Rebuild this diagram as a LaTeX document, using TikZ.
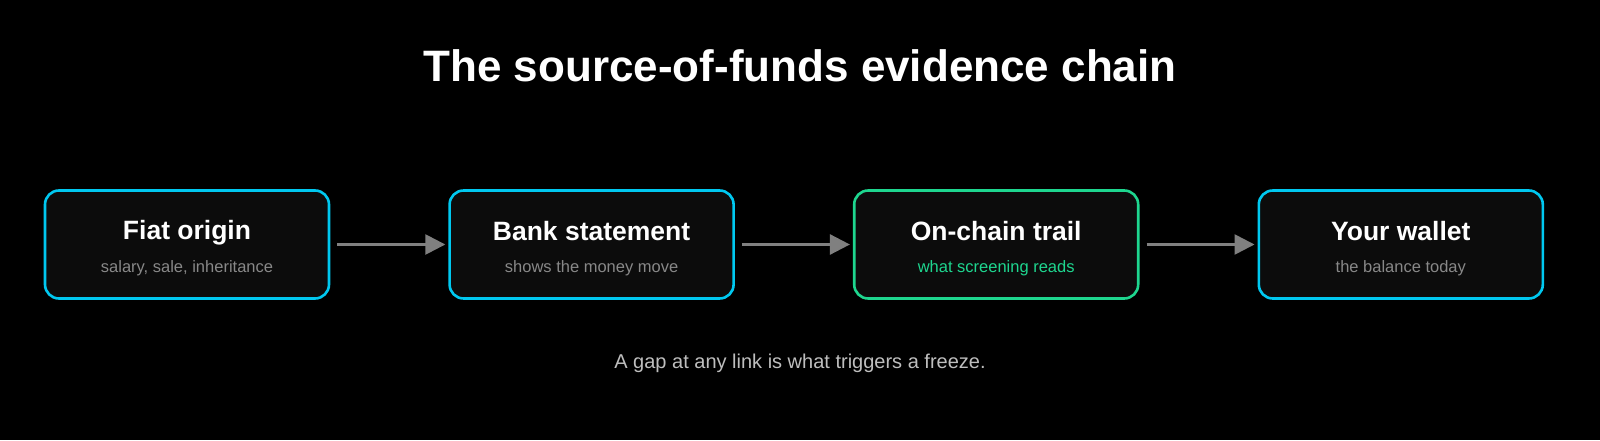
\documentclass[tikz,border=0pt]{standalone}
\usepackage{fontspec}
\setmainfont{Liberation Sans}
\usetikzlibrary{arrows.meta,positioning}
\definecolor{canvas}{RGB}{0,0,0}
\definecolor{boxfill}{RGB}{12,12,12}
\definecolor{edgecyan}{RGB}{0,200,240}
\definecolor{edgegreen}{RGB}{30,214,143}
\definecolor{subgrey}{RGB}{136,136,136}
\definecolor{arrowgrey}{RGB}{128,128,128}
\definecolor{notegrey}{RGB}{190,190,190}

\tikzset{
  stage/.style={draw=edgecyan,line width=2.6pt,fill=boxfill,
    rounded corners=14pt,minimum width=284pt,minimum height=108pt,
    align=center,inner sep=0pt,text=white,
    font=\fontsize{1pt}{1pt}\selectfont},
  onchain/.style={stage,draw=edgegreen},
  flow/.style={draw=arrowgrey,line width=2.6pt,
    -{Triangle[length=20pt,width=20pt]},shorten <=7pt,shorten >=3pt}
}
% fixed struts keep both baselines the same distance apart in every box
\newcommand{\stagehead}[1]{{\fontsize{26.5pt}{28pt}\selectfont\bfseries
  \rule[-4pt]{0pt}{31pt}#1}}
\newcommand{\stagesub}[2][subgrey]{{\fontsize{16.5pt}{18pt}\selectfont
  \color{#1}\rule[-4pt]{0pt}{31pt}#2}}

\begin{document}
\begin{tikzpicture}[x=1pt,y=1pt]
  \fill[canvas] (0,0) rectangle (1600,440);
  \useasboundingbox (0,0) rectangle (1600,440);

  \node[text=white,font=\fontsize{44pt}{50pt}\selectfont\bfseries]
    (title) at (800,374) {The source-of-funds evidence chain};

  \node[stage] (fiat) at (187,195.5)
    {\stagehead{Fiat origin}\\\stagesub{salary, sale, inheritance}};
  \node[stage,right=118pt of fiat] (bank)
    {\stagehead{Bank statement}\\\stagesub{shows the money move}};
  \node[onchain,right=118pt of bank] (trail)
    {\stagehead{On-chain trail}\\\stagesub[edgegreen]{what screening reads}};
  \node[stage,right=118pt of trail] (wallet)
    {\stagehead{Your wallet}\\\stagesub{the balance today}};

  \draw[flow] (fiat) -- (bank);
  \draw[flow] (bank) -- (trail);
  \draw[flow] (trail) -- (wallet);

  \node[text=notegrey,font=\fontsize{20pt}{24pt}\selectfont]
    (note) at (800,77) {A gap at any link is what triggers a freeze.};
\end{tikzpicture}
\end{document}
